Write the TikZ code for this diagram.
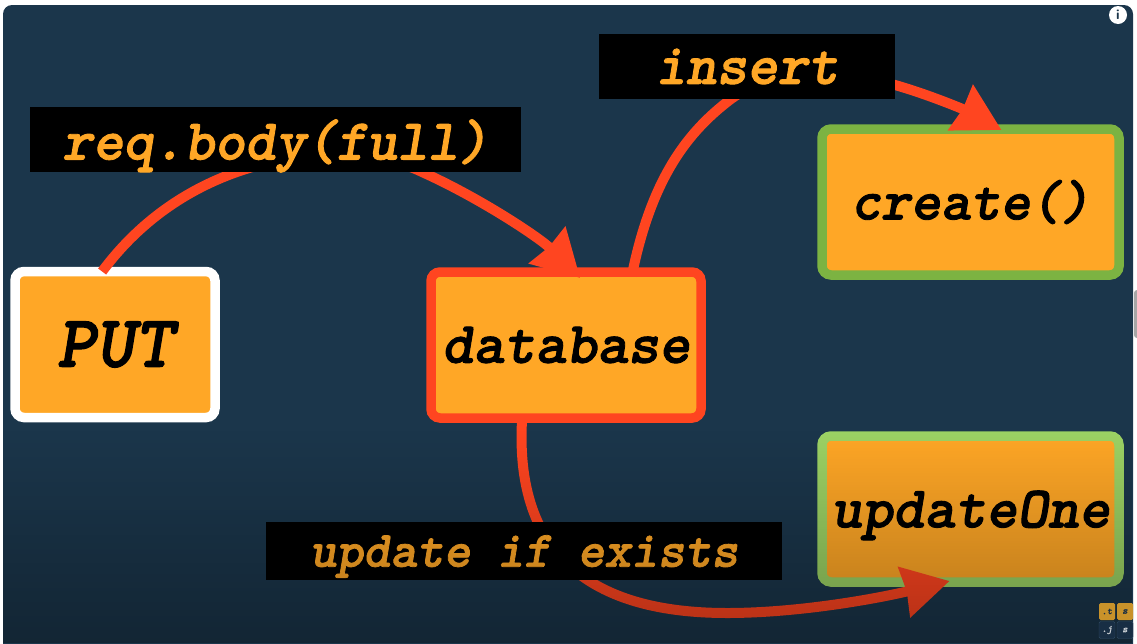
\documentclass[tikz,border=0pt]{standalone}
\usepackage{fontspec}
\usepackage{tikz}
\usetikzlibrary{arrows.meta,fadings}
\newfontfamily\codeface{lmmonolt10-boldoblique.otf}[FakeBold=1.5]
\definecolor{panel}{RGB}{27,54,75}
\definecolor{boxfill}{RGB}{255,167,38}
\definecolor{flowred}{RGB}{255,69,32}
\definecolor{leafgreen}{RGB}{124,179,66}
\definecolor{leaflight}{RGB}{156,210,100}
\definecolor{tileamber}{RGB}{200,146,42}
\definecolor{tiledark}{RGB}{24,46,68}
\definecolor{tileedge}{RGB}{48,76,100}
\tikzfading[name=dimfade, top color=transparent!100, bottom color=transparent!70]
\newcommand{\codefont}[1]{\fontsize{#1}{#1}\selectfont\codeface}

\begin{document}
\begin{tikzpicture}[
  x=1pt, y=-1pt,
  box/.style={fill=boxfill, line width=9.5pt, rounded corners=9pt, outer sep=0pt,
    text=black, inner sep=0pt, minimum height=146pt},
  tag/.style={fill=black, text=boxfill, inner sep=0pt, outer sep=0pt},
  flow/.style={draw=flowred, line width=10pt, -{Stealth[length=46pt, width=50pt, inset=2pt]}},
  tile/.style={rounded corners=1.5pt, minimum width=16pt, minimum height=17pt, inner sep=0pt,
    font=\codefont{10}}
]
\useasboundingbox (0,0) rectangle (1137,643);
\fill[white] (0,0) rectangle (1137,643);
\fill[panel, rounded corners=9pt] (3,5) rectangle (1133,670);
\fill[gray!70, rounded corners=3pt] (1134,290) rectangle (1145,338);

\node[box, draw=white, minimum width=200pt, font=\codefont{74}] (put) at (115,344.5) {PUT};
\node[box, draw=flowred, minimum width=270pt, font=\codefont{59}] (database) at (566,345) {database};
\node[box, draw=leafgreen, minimum width=297pt, font=\codefont{57}] (create) at (970.5,202) {create()};
\node[box, draw=leaflight, minimum width=297pt, text depth=0pt, font=\codefont{59}] (updateone) at (970.5,509) {updateOne};

\draw[flow] (put.100) .. controls (200,140) and (362,142) .. (422,172)
  .. controls (480,198) and (540,238) .. ([yshift=-6pt]database.79);
\draw[flow] ([yshift=-4pt]database.48) .. controls (652,175) and (690,130) .. (731,99)
  .. controls (770,70) and (840,68) .. (895,85)
  .. controls (930,95) and (965,110) .. ([yshift=-1pt]create.67);
\draw[flow] (database.239) .. controls (513,570) and (610,613) .. (727,613)
  .. controls (800,613) and (880,598) .. ([yshift=1pt]updateone.254);

\node[tag, minimum width=491pt, minimum height=65pt, text depth=0pt, font=\codefont{58}] (reqbody) at (275.5,139.5) {req.body(full)};
\node[tag, minimum width=296pt, minimum height=65pt, font=\codefont{58}] (insert) at (747,66.5) {insert};
\node[tag, minimum width=516pt, minimum height=58pt, text depth=0pt, font=\codefont{51}] (exists) at (524,551) {update if exists};

\fill[black, path fading=dimfade] (3,430) rectangle (1133,643);

\node[circle, fill=white, minimum size=18pt, inner sep=0pt, text=panel, font=\sffamily\bfseries\fontsize{14}{14}\selectfont] (info) at (1118,15) {i};
\node[tile, fill=tileamber, text=tiledark] (tilet) at (1107,611.5) {.t};
\node[tile, fill=tileamber, text=tiledark] (tiles) at (1125,611.5) {s};
\node[tile, fill=tiledark, draw=tileedge, text=white!75!tiledark] (tilej) at (1107,630) {.j};
\node[tile, fill=tiledark, draw=tileedge, text=white!75!tiledark] (tilez) at (1125,630) {s};
\end{tikzpicture}
\end{document}
